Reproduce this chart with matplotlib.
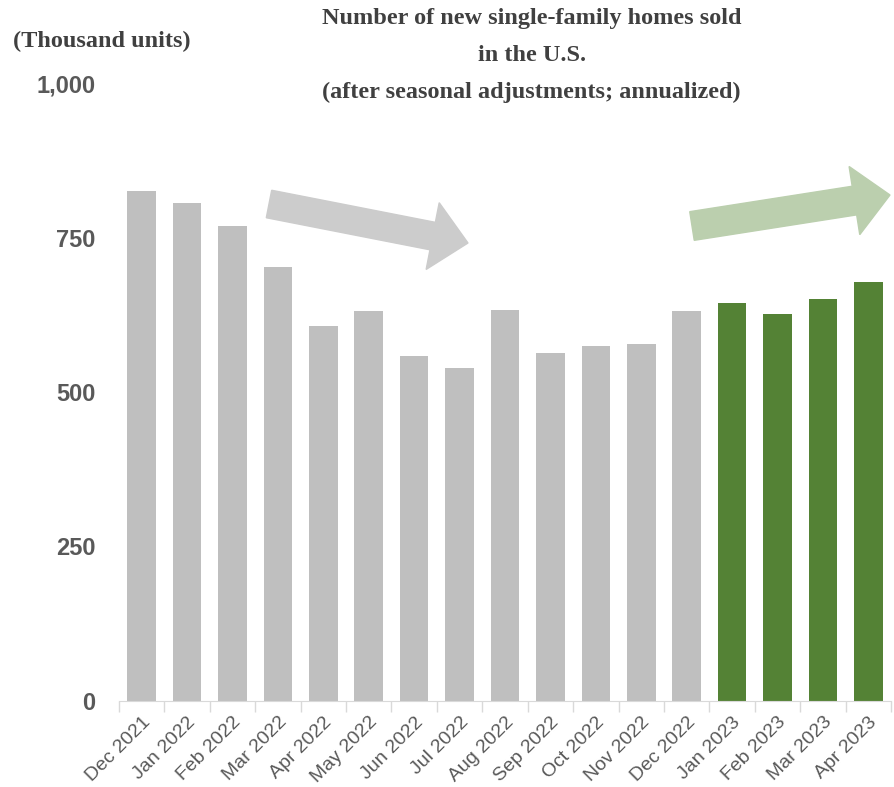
import matplotlib
matplotlib.use("Agg")
import matplotlib.pyplot as plt
from matplotlib.patches import FancyArrow
from matplotlib.transforms import IdentityTransform
from matplotlib.ticker import FuncFormatter, FixedLocator

months = ["Dec 2021", "Jan 2022", "Feb 2022", "Mar 2022", "Apr 2022", "May 2022",
          "Jun 2022", "Jul 2022", "Aug 2022", "Sep 2022", "Oct 2022", "Nov 2022",
          "Dec 2022", "Jan 2023", "Feb 2023", "Mar 2023", "Apr 2023"]
sales = [825, 806, 769, 702, 607, 631, 558, 539, 633, 563, 574, 578,
         631, 644, 626, 650, 678]
highlight = [False] * 13 + [True] * 4
yticks = [0, 250, 500, 750, 1000]
title_lines = ["Number of new single-family homes sold", "in the U.S.",
               "(after seasonal adjustments; annualized)"]

sans = ["Liberation Sans", "DejaVu Sans"]
serif = ["Liberation Serif", "DejaVu Serif"]

fig = plt.figure(figsize=(8.95, 7.87), dpi=100)
ax = fig.add_axes([0.133, 0.1093, 0.8625, 0.7852])

colors = ["#548235" if h else "#bfbfbf" for h in highlight]
x = range(len(months))
ax.bar(x, sales, width=0.63, color=colors)

ax.set_xlim(-0.5, len(months) - 0.5)
ax.set_ylim(0, 1000)
ax.set_yticks(yticks)
ax.yaxis.set_major_formatter(FuncFormatter(lambda v, p: f"{int(v):,}"))
ax.tick_params(axis="y", length=0, pad=17, labelcolor="#595959")
for lab in ax.get_yticklabels():
    lab.set_fontfamily(sans)
    lab.set_fontsize(17)
    lab.set_fontweight("bold")

ax.set_xticks(list(x))
ax.set_xticklabels(months, rotation=45, ha="right", rotation_mode="anchor",
                   fontfamily=sans, fontsize=14, color="#595959")
ax.tick_params(axis="x", which="major", length=0, pad=9)
ax.xaxis.set_minor_locator(FixedLocator([i - 0.5 for i in range(len(months) + 1)]))
ax.tick_params(axis="x", which="minor", length=8, color="#d9d9d9", width=1)

for s in ["top", "right", "left"]:
    ax.spines[s].set_visible(False)
ax.spines["bottom"].set_color("#d9d9d9")

for i, line in enumerate(title_lines):
    fig.text(0.594, 0.977 - i * 0.047, line, ha="center", va="center",
             fontfamily=serif, fontweight="bold", fontsize=17.5, color="#404040")
fig.text(0.015, 0.947, "(Thousand units)", ha="left", va="center", fontfamily=serif,
         fontweight="bold", fontsize=17.5, color="#404040")

# trend arrows, in display pixels (origin bottom-left)
H = 787
fig.add_artist(FancyArrow(269, H - 204, 468 - 269, (H - 243) - (H - 204), width=28,
                          head_width=68, head_length=36, length_includes_head=True,
                          color="#cccccc", transform=IdentityTransform()))
fig.add_artist(FancyArrow(692, H - 226, 890 - 692, (H - 195) - (H - 226), width=29,
                          head_width=69, head_length=36, length_includes_head=True,
                          color="#bbcfae", transform=IdentityTransform()))

fig.savefig("out.png", dpi=100)
